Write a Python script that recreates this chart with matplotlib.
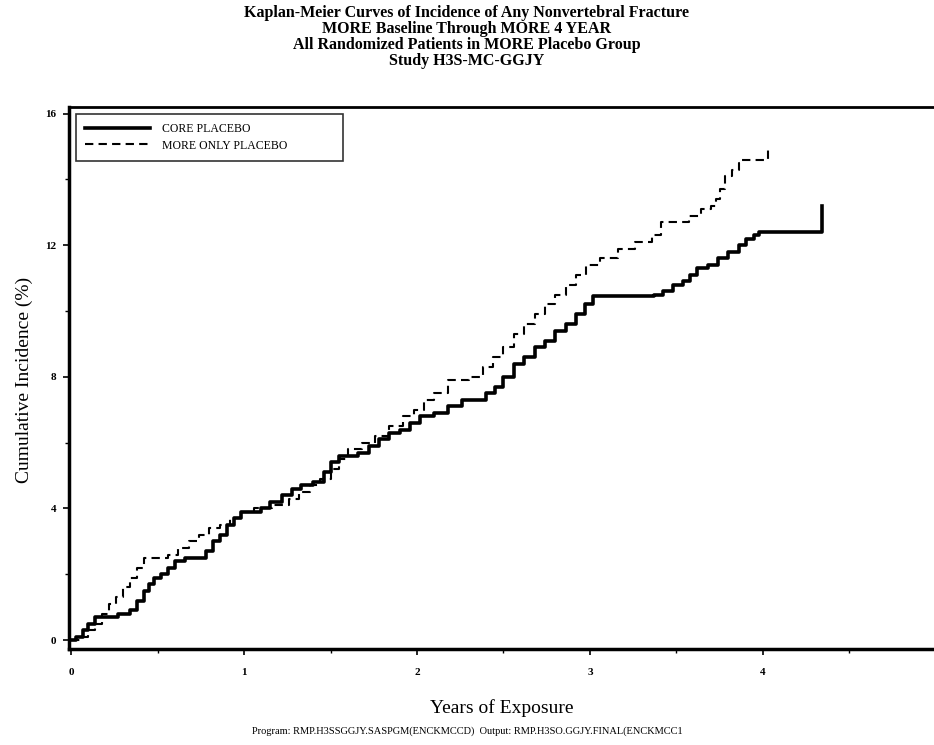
import matplotlib
matplotlib.use("Agg")
import matplotlib.pyplot as plt
from matplotlib.ticker import MultipleLocator

# CORE placebo (solid) step points: years, cumulative incidence (%)
core_x = [0.0, 0.03, 0.07, 0.10, 0.14, 0.27, 0.34, 0.38, 0.42, 0.45, 0.48, 0.52, 0.56, 0.60, 0.66,
          0.78, 0.82, 0.86, 0.90, 0.94, 0.98, 1.10, 1.15, 1.22, 1.28, 1.33, 1.40, 1.46, 1.50, 1.55,
          1.66, 1.72, 1.78, 1.84, 1.90, 1.96, 2.02, 2.10, 2.18, 2.26, 2.40, 2.45, 2.50, 2.56, 2.62,
          2.68, 2.74, 2.80, 2.86, 2.92, 2.97, 3.02, 3.37, 3.42, 3.48, 3.54, 3.58, 3.62, 3.68, 3.74,
          3.80, 3.86, 3.90, 3.95, 3.98, 4.34, 4.34]
core_y = [0.0, 0.1, 0.3, 0.5, 0.7, 0.8, 0.9, 1.2, 1.5, 1.7, 1.9, 2.0, 2.2, 2.4, 2.5,
          2.7, 3.0, 3.2, 3.5, 3.7, 3.9, 4.0, 4.2, 4.4, 4.6, 4.7, 4.8, 5.1, 5.4, 5.6,
          5.7, 5.9, 6.1, 6.3, 6.4, 6.6, 6.8, 6.9, 7.1, 7.3, 7.5, 7.7, 8.0, 8.4, 8.6,
          8.9, 9.1, 9.4, 9.6, 9.9, 10.2, 10.45, 10.5, 10.6, 10.8, 10.9, 11.1, 11.3, 11.4, 11.6,
          11.8, 12.0, 12.2, 12.3, 12.4, 12.4, 13.2]

# MORE only placebo (dashed) step points
more_x = [0.0, 0.05, 0.10, 0.14, 0.18, 0.22, 0.26, 0.30, 0.34, 0.38, 0.42, 0.56, 0.62, 0.68, 0.74,
          0.80, 0.86, 0.92, 0.98, 1.06, 1.16, 1.26, 1.32, 1.38, 1.44, 1.50, 1.55, 1.60, 1.68, 1.76,
          1.84, 1.92, 1.98, 2.04, 2.10, 2.18, 2.30, 2.38, 2.44, 2.50, 2.56, 2.62, 2.68, 2.74, 2.80,
          2.86, 2.92, 2.98, 3.06, 3.16, 3.26, 3.36, 3.41, 3.57, 3.64, 3.70, 3.73, 3.75, 3.78, 3.82,
          3.86, 3.88, 4.03, 4.03]
more_y = [0.0, 0.1, 0.3, 0.5, 0.8, 1.1, 1.3, 1.6, 1.9, 2.2, 2.5, 2.6, 2.8, 3.0, 3.2,
          3.4, 3.5, 3.7, 3.9, 4.0, 4.1, 4.3, 4.5, 4.7, 4.9, 5.2, 5.5, 5.8, 6.0, 6.2,
          6.5, 6.8, 7.0, 7.3, 7.5, 7.9, 8.0, 8.3, 8.6, 8.9, 9.3, 9.6, 9.9, 10.2, 10.5,
          10.8, 11.1, 11.4, 11.6, 11.9, 12.1, 12.3, 12.7, 12.9, 13.1, 13.2, 13.4, 13.7, 14.1, 14.3,
          14.5, 14.6, 14.6, 15.0]

x_ticks = [0, 1, 2, 3, 4]
y_ticks = [0, 4, 8, 12, 16]
series_labels = ["CORE PLACEBO", "MORE ONLY PLACEBO"]
title_lines = ["Kaplan-Meier Curves of Incidence of Any Nonvertebral Fracture",
               "MORE Baseline Through MORE 4 YEAR",
               "All Randomized Patients in MORE Placebo Group",
               "Study H3S-MC-GGJY"]

plt.rcParams['font.family'] = ['Liberation Serif', 'DejaVu Serif']

fig = plt.figure(figsize=(9.34, 7.45), dpi=100)
ax = fig.add_axes([69/934, 1-649/745, 1-69/934 + 0.002, (649-107)/745])

ax.plot(core_x, core_y, drawstyle='steps-post', color='black', lw=2.6, label=series_labels[0])
ax.plot(more_x, more_y, drawstyle='steps-post', color='black', lw=1.5, ls=(0, (4, 2.5)),
        label=series_labels[1])

ax.set_xlim(-0.012, 5.0)
ax.set_ylim(-0.27, 16.2)
ax.set_xticks(x_ticks)
ax.set_yticks(y_ticks)
ax.xaxis.set_minor_locator(MultipleLocator(0.5))
ax.yaxis.set_minor_locator(MultipleLocator(2))
ax.tick_params(axis='x', which='major', labelsize=8, length=4, width=1.2, direction='out', pad=10)
ax.tick_params(axis='y', which='major', labelsize=8, length=4, width=1.2, direction='out', pad=5)
ax.tick_params(axis='both', which='minor', length=3, width=1.0, direction='out')
for lbl in ax.get_xticklabels() + ax.get_yticklabels():
    lbl.set_fontweight('bold')

ax.spines['left'].set_linewidth(2.5)
ax.spines['bottom'].set_linewidth(2.5)
ax.spines['top'].set_linewidth(2.0)
ax.spines['right'].set_visible(False)

ax.set_ylabel("Cumulative Incidence (%)", fontsize=14)
ax.yaxis.set_label_coords((33 - 69) / 867, 0.496)
ax.set_xlabel("Years of Exposure", fontsize=14)
ax.xaxis.set_label_coords(0.5 + (502 - 69 - 433.5) / 867, (649 - 699) / 542)

leg = ax.legend(loc='upper left', bbox_to_anchor=(0.008, 0.987, 0.308, 0.0), mode='expand',
                frameon=True, fancybox=False, edgecolor='black', fontsize=8.5, handlelength=5.5,
                borderpad=0.8, labelspacing=0.35, borderaxespad=0.0, handletextpad=1.0)
leg.get_frame().set_linewidth(1.2)

for i, t in enumerate(title_lines):
    fig.text(0.5, 1 - (13 + i*16)/745, t, ha='center', va='center', fontsize=11.5, fontweight='bold')

fig.text(0.5, 1 - 731/745, "Program: RMP.H3SSGGJY.SASPGM(ENCKMCCD)  Output: RMP.H3SO.GGJY.FINAL(ENCKMCC1",
         ha='center', va='center', fontsize=7.5)

fig.savefig("out.png", dpi=100)
